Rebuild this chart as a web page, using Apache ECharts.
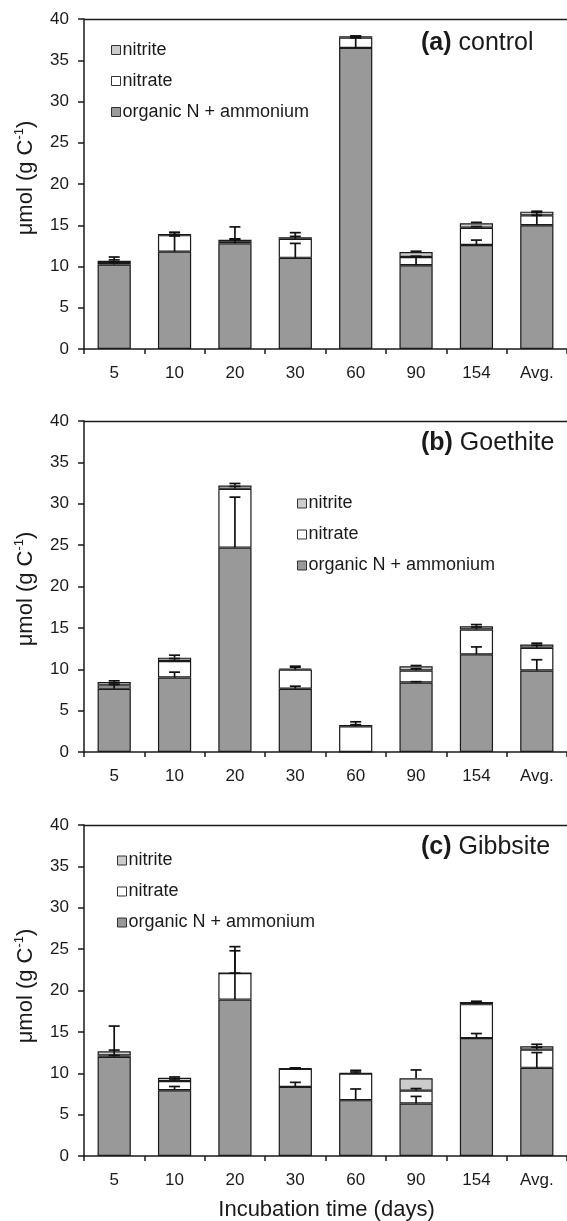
<!DOCTYPE html>
<html>
<head>
<meta charset="utf-8">
<script src="https://cdn.jsdelivr.net/npm/echarts@6/dist/echarts.min.js"></script>
<style>
html,body{margin:0;padding:0;background:#fff;}
#chart{width:567px;height:1221px;}
</style>
</head>
<body>
<div id="chart"></div>
<script>
const categories = ['5','10','20','30','60','90','154','Avg.'];
const yTicks = [0, 40, 5];

// Panel (a) control
const a_org = [10.25, 11.8, 12.8, 11.05, 36.5, 10.15, 12.6, 15.0];
const a_nitrate = [0.3, 2.0, 0.2, 2.3, 1.25, 1.0, 2.1, 1.2];
const a_nitrite = [0.15, 0.15, 0.25, 0.2, 0.15, 0.6, 0.55, 0.45];
const a_org_err = [0.3, 1.9, 0.5, 1.75, 1.2, 1.0, 0.6, 1.2];
const a_nitrate_err = [0.6, 0.3, 1.8, 0.75, 0.15, 0.1, 0.15, 0.35];
const a_nitrite_err = [0.1, 0.2, 0.1, 0.1, 0.05, 0.1, 0.1, 0.05];

// Panel (b) Goethite
const b_org = [7.65, 9.0, 24.7, 7.65, 0, 8.4, 11.8, 9.85];
const b_nitrate = [0.4, 2.0, 7.1, 2.3, 3.1, 1.45, 3.0, 2.75];
const b_nitrite = [0.4, 0.4, 0.4, 0.12, 0.15, 0.5, 0.4, 0.4];
const b_org_err = [0.5, 0.65, 6.1, 0.3, 0, 0.1, 0.9, 1.3];
const b_nitrate_err = [0.3, 0.3, 0.3, 0.3, 0.2, 0.2, 0.3, 0.3];
const b_nitrite_err = [0.15, 0.3, 0.25, 0.3, 0.4, 0.1, 0.2, 0.15];

// Panel (c) Gibbsite
const c_org = [12.0, 7.95, 18.9, 8.35, 6.75, 6.35, 14.25, 10.65];
const c_nitrate = [0.15, 1.1, 3.2, 2.2, 3.2, 1.55, 4.1, 2.2];
const c_nitrite = [0.5, 0.4, 0.0, 0.05, 0.05, 1.5, 0.25, 0.4];
const c_org_err = [0.15, 0.45, 3.2, 0.55, 1.35, 0.85, 0.55, 1.85];
const c_nitrate_err = [3.55, 0.25, 3.2, 0.1, 0.2, 0.25, 0.2, 0.3];
const c_nitrite_err = [0.15, 0.1, 2.7, 0.05, 0.35, 1.0, 0.1, 0.25];

const seriesNames = ['nitrite', 'nitrate', 'organic N + ammonium'];
const panelTitles = [['(a)', ' control'], ['(b)', ' Goethite'], ['(c)', ' Gibbsite']];
const yTitle = 'μmol (g C';
const xTitle = 'Incubation time (days)';

const FONT = '"Liberation Sans", Arial, Helvetica, sans-serif';
const INK = '#1a1a1a';

const panels = [
  {org: a_org, nit: a_nitrate, nii: a_nitrite, eo: a_org_err, en: a_nitrate_err, ei: a_nitrite_err},
  {org: b_org, nit: b_nitrate, nii: b_nitrite, eo: b_org_err, en: b_nitrate_err, ei: b_nitrite_err},
  {org: c_org, nit: c_nitrate, nii: c_nitrite, eo: c_org_err, en: c_nitrate_err, ei: c_nitrite_err}
];

const gridTops = [19, 421, 825];
const gridH = [330, 331, 331];
const legendPos = [[106, 36], [292, 489.5], [112, 846.5]];
const titlePos = [[421, 45], [421, 445], [421, 849]];
const yTitleY = [178, 589, 986];

const grids = [], xAxes = [], topAxes = [], yAxes = [], series = [], legends = [], graphics = [];

panels.forEach((p, i) => {
  grids.push({left: 84, top: gridTops[i], width: 485, height: gridH[i]});
  xAxes.push({type: 'category', gridIndex: i, data: categories,
    axisLine: {lineStyle: {color: INK, width: 1.5}},
    axisTick: {show: true, length: 5, lineStyle: {color: INK, width: 1.5}, alignWithLabel: false},
    axisLabel: {color: INK, fontSize: 17, fontFamily: FONT, margin: 16}
  });
  topAxes.push({type: 'category', gridIndex: i, data: categories, position: 'top',
    axisLine: {show: true, lineStyle: {color: INK, width: 1.3}},
    axisTick: {show: false}, axisLabel: {show: false}
  });
  yAxes.push({type: 'value', gridIndex: i, min: yTicks[0], max: yTicks[1], interval: yTicks[2],
    axisLine: {show: true, lineStyle: {color: INK, width: 1.5}},
    axisTick: {show: true, length: 6, lineStyle: {color: INK, width: 1.5}},
    splitLine: {show: false},
    axisLabel: {color: INK, fontSize: 17, fontFamily: FONT, margin: 15}
  });
  const stack = 'p' + i;
  const barBase = {type: 'bar', xAxisIndex: i, yAxisIndex: i, stack: stack, barWidth: '55%'};
  series.push(Object.assign({}, barBase, {name: 'organic N + ammonium', data: p.org,
    itemStyle: {color: '#999999', borderColor: INK, borderWidth: 1.2}}));
  series.push(Object.assign({}, barBase, {name: 'nitrate', data: p.nit,
    itemStyle: {color: '#ffffff', borderColor: INK, borderWidth: 1.2}}));
  series.push(Object.assign({}, barBase, {name: 'nitrite', data: p.nii,
    itemStyle: {color: '#cccccc', borderColor: INK, borderWidth: 1.2}}));

  const errData = [];
  categories.forEach((c, k) => {
    const t1 = p.org[k], t2 = t1 + p.nit[k], t3 = t2 + p.nii[k];
    errData.push([k, t1, p.eo[k]]);
    errData.push([k, t2, p.en[k]]);
    errData.push([k, t3, p.ei[k]]);
  });
  series.push({type: 'custom', xAxisIndex: i, yAxisIndex: i, z: 5, silent: true,
    data: errData,
    encode: {x: 0, y: 1},
    renderItem: function (params, api) {
      const x = api.value(0), y0 = api.value(1), e = api.value(2);
      if (!(e > 0)) return null;
      const p0 = api.coord([x, y0]);
      const p1 = api.coord([x, y0 + e]);
      const st = {stroke: '#111', lineWidth: 1.7};
      return {type: 'group', children: [
        {type: 'line', shape: {x1: p0[0], y1: p0[1], x2: p1[0], y2: p1[1]}, style: st},
        {type: 'line', shape: {x1: p1[0] - 5.5, y1: p1[1], x2: p1[0] + 5.5, y2: p1[1]}, style: st}
      ]};
    }
  });

  legends.push({orient: 'vertical', left: legendPos[i][0], top: legendPos[i][1],
    data: seriesNames, icon: 'rect', itemWidth: 9, itemHeight: 9, itemGap: 13, selectedMode: false,
    itemStyle: {borderColor: '#333', borderWidth: 1},
    textStyle: {color: INK, fontSize: 18, fontFamily: FONT, lineHeight: 18, padding: [0, 0, 0, -3]}
  });

  graphics.push({type: 'text', left: titlePos[i][0], top: titlePos[i][1] - 14,
    style: {text: '{b|' + panelTitles[i][0] + '}{n|' + panelTitles[i][1] + '}',
      rich: {b: {fontWeight: 'bold', fontSize: 25, fontFamily: FONT, fill: INK},
             n: {fontSize: 25, fontFamily: FONT, fill: INK}}, fill: INK}
  });
  graphics.push({type: 'text', x: 25, y: yTitleY[i], rotation: Math.PI / 2,
    style: {text: '{n|' + yTitle + '}{s|-1}{n|)}', align: 'center', verticalAlign: 'middle',
      rich: {n: {fontSize: 22, fontFamily: FONT, fill: INK, verticalAlign: 'bottom', lineHeight: 24},
             s: {fontSize: 13, fontFamily: FONT, fill: INK, verticalAlign: 'top', lineHeight: 24}},
      fill: INK}
  });
});

graphics.push({type: 'text', x: 326.5, y: 1210,
  style: {text: xTitle, fontSize: 22, fontFamily: FONT, fill: INK, align: 'center', verticalAlign: 'middle'}});

const chart = echarts.init(document.getElementById('chart'), null, {renderer: 'canvas'});
chart.setOption({
  animation: false,
  backgroundColor: '#ffffff',
  grid: grids,
  xAxis: xAxes.concat(topAxes),
  yAxis: yAxes,
  legend: legends,
  series: series,
  graphic: graphics
});
</script>
</body>
</html>
